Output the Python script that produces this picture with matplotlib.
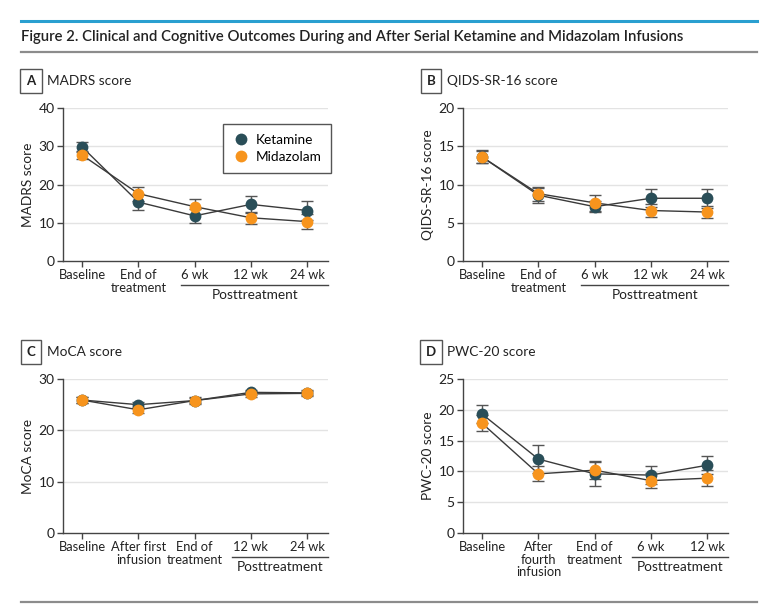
import matplotlib
matplotlib.use('Agg')
import matplotlib.pyplot as plt
from matplotlib.lines import Line2D

# ---- data ----
madrs_labels = ['Baseline', 'End of\ntreatment', '6 wk', '12 wk', '24 wk']
madrs_ket = [29.8, 15.4, 11.8, 14.8, 13.2]
madrs_ket_err = [1.2, 2.1, 1.8, 2.2, 2.5]
madrs_mid = [27.7, 17.6, 14.2, 11.3, 10.3]
madrs_mid_err = [1.0, 1.8, 1.9, 1.6, 2.0]

qids_labels = ['Baseline', 'End of\ntreatment', '6 wk', '12 wk', '24 wk']
qids_ket = [13.6, 8.6, 7.1, 8.2, 8.2]
qids_ket_err = [0.85, 1.0, 0.7, 1.15, 1.25]
qids_mid = [13.6, 8.8, 7.6, 6.6, 6.4]
qids_mid_err = [0.8, 0.9, 1.0, 0.9, 0.8]

moca_labels = ['Baseline', 'After first\ninfusion', 'End of\ntreatment', '12 wk', '24 wk']
moca_ket = [25.9, 25.0, 25.8, 27.4, 27.3]
moca_ket_err = [0.5, 0.6, 0.5, 0.5, 0.5]
moca_mid = [25.9, 24.0, 25.8, 27.1, 27.2]
moca_mid_err = [0.5, 0.6, 0.6, 0.6, 0.5]

pwc_labels = ['Baseline', 'After\nfourth\ninfusion', 'End of\ntreatment', '6 wk', '12 wk']
pwc_ket = [19.3, 12.0, 9.6, 9.4, 11.0]
pwc_ket_err = [1.5, 2.3, 2.0, 1.4, 1.5]
pwc_mid = [17.8, 9.6, 10.2, 8.5, 8.9]
pwc_mid_err = [1.3, 1.2, 1.5, 1.2, 1.35]

KET = '#2a4e58'
MID = '#f7941d'
W, H = 770, 611

plt.rcParams['font.family'] = ['Lato', 'DejaVu Sans']

fig = plt.figure(figsize=(W / 100, H / 100), dpi=100)


def box(l, t, r, b):
    return [l / W, 1 - b / H, (r - l) / W, (b - t) / H]


def panel(rect, letter, title, labels, ket, ket_err, mid, mid_err,
          ymax, ystep, ylabel, post_start, legend=False):
    ax = fig.add_axes(box(*rect))
    x = list(range(len(labels)))
    for vals, err, col, z in [(ket, ket_err, KET, 3), (mid, mid_err, MID, 4)]:
        ax.errorbar(x, vals, yerr=err, fmt='none', ecolor='#555555',
                    elinewidth=1, capsize=4, capthick=1, zorder=2)
        ax.plot(x, vals, color='#3a3a3a', lw=1, zorder=2)
        ax.plot(x, vals, 'o', color=col, ms=8.5, zorder=z, mec='none')
    ax.set_xlim(-0.34, len(labels) - 1 + 0.37)
    ax.set_ylim(0, ymax)
    ax.set_yticks(range(0, ymax + 1, ystep))
    ax.set_xticks(x)
    ax.set_xticklabels(labels, linespacing=1.05)
    for yv in range(ystep, ymax + 1, ystep):
        ax.axhline(yv, color='#e3e3e3', lw=1, zorder=0)
    for s in ['top', 'right']:
        ax.spines[s].set_visible(False)
    for s in ['left', 'bottom']:
        ax.spines[s].set_color('#444444')
        ax.spines[s].set_linewidth(1)
    ax.tick_params(length=4, width=1, color='#444444', labelsize=9.3,
                   labelcolor='#222222', pad=2)
    ax.tick_params(axis='y', labelsize=10)
    ax.set_ylabel(ylabel, fontsize=9.8, color='#222222', labelpad=3)

    # Posttreatment bracket
    ax.add_line(Line2D([post_start, ax.get_xlim()[1]], [-0.155, -0.155],
                       transform=ax.get_xaxis_transform(), color='#444444',
                       lw=1, clip_on=False))
    ax.text((post_start + ax.get_xlim()[1]) / 2, -0.18, 'Posttreatment',
            transform=ax.get_xaxis_transform(), ha='center', va='top',
            fontsize=9.8, color='#222222')

    # panel letter box and title
    l, t = rect[0], rect[1]
    fig.text((l - 32) / W, 1 - (t - 27) / H, letter, ha='center', va='center',
             fontsize=9.5, fontweight='bold', color='#222222',
             bbox=dict(boxstyle='square,pad=0.45', fc='white', ec='#555555', lw=1))
    fig.text((l - 16) / W, 1 - (t - 27) / H, title, ha='left', va='center',
             fontsize=9.8, color='#222222')

    if legend:
        h1 = Line2D([], [], marker='o', ls='none', color=KET, ms=8.5, mec='none')
        h2 = Line2D([], [], marker='o', ls='none', color=MID, ms=8.5, mec='none')
        leg = ax.legend([h1, h2], ['Ketamine', 'Midazolam'], loc='upper left',
                        bbox_to_anchor=(0.604, 0.895), borderaxespad=0,
                        fancybox=False, edgecolor='#555555', fontsize=9.8,
                        handletextpad=0.5, borderpad=0.7, labelspacing=0.4,
                        handlelength=1.2, framealpha=1)
        leg.get_frame().set_linewidth(1)
    return ax


panel((63, 108, 328, 261), 'A', 'MADRS score', madrs_labels, madrs_ket,
      madrs_ket_err, madrs_mid, madrs_mid_err, 40, 10, 'MADRS score', 1.76,
      legend=True)
panel((463, 108, 728, 261), 'B', 'QIDS-SR-16 score', qids_labels, qids_ket,
      qids_ket_err, qids_mid, qids_mid_err, 20, 5, 'QIDS-SR-16 score', 1.76)
panel((63, 379, 328, 533), 'C', 'MoCA score', moca_labels, moca_ket,
      moca_ket_err, moca_mid, moca_mid_err, 30, 10, 'MoCA score', 2.66)
panel((463, 379, 728, 533), 'D', 'PWC-20 score', pwc_labels, pwc_ket,
      pwc_ket_err, pwc_mid, pwc_mid_err, 25, 5, 'PWC-20 score', 2.66)

# header / footer rules
fig.add_artist(Line2D([21 / W, 757 / W], [1 - 21 / H] * 2, color='#2a9fd0', lw=2.2))
fig.add_artist(Line2D([21 / W, 757 / W], [1 - 52 / H] * 2, color='#8c8c8c', lw=1.6))
fig.add_artist(Line2D([21 / W, 757 / W], [1 - 602 / H] * 2, color='#8c8c8c', lw=1.6))
fig.text(21 / W, 1 - 37 / H,
         'Figure 2. Clinical and Cognitive Outcomes During and After Serial '
         'Ketamine and Midazolam Infusions',
         ha='left', va='center', fontsize=10.7, fontweight='semibold',
         color='#222222')

fig.savefig('out.png', dpi=100)
